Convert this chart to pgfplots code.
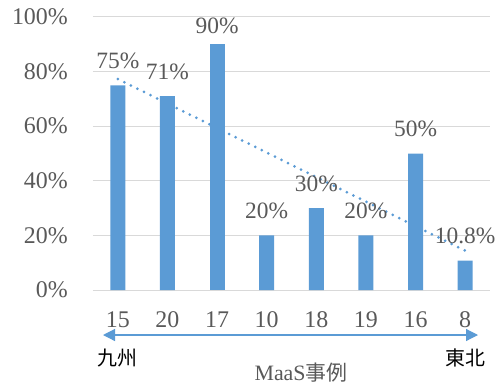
\documentclass[border=0pt]{standalone}
\usepackage{pgfplots}
\pgfplotsset{compat=1.18}
\usetikzlibrary{arrows.meta}
\usepackage{fontspec}
\setmainfont{Liberation Serif}
\newfontfamily\tnr{Liberation Serif}
\newfontfamily\cjk{Noto Sans CJK JP}
\definecolor{barblue}{HTML}{5B9BD5}
\definecolor{txt}{HTML}{595959}
\definecolor{gridc}{HTML}{D9D9D9}
\tikzset{lbl/.style={font=\tnr\fontsize{23.5}{27}\selectfont, text=txt, anchor=base, inner sep=0pt}}
\begin{document}
\begin{tikzpicture}[x=1bp,y=1bp]
\path[use as bounding box] (-93,-95) rectangle (404,290);
\begin{axis}[
  at={(0,0)}, anchor=south west,
  width=397bp, height=273bp, scale only axis,
  xmin=-0.5, xmax=7.5, ymin=0, ymax=100,
  xtick={0,...,7}, xticklabels={15,20,17,10,18,19,16,8},
  ytick={0,20,...,100}, yticklabels={0\%,20\%,40\%,60\%,80\%,100\%},
  axis line style={draw=none}, major tick length=0pt,
  ymajorgrids, grid style={gridc, line width=1pt},
  ticklabel style={font=\tnr\fontsize{24}{28}\selectfont, text=txt, inner sep=0pt},
  yticklabel style={anchor=east, xshift=-25bp},
  xticklabel style={anchor=base, yshift=-37bp},
  clip=false,
  /pgf/number format/assume math mode=true,
]
\addplot[ybar, bar width=15bp, bar shift=0pt, fill=barblue, draw=none,
  point meta=y,
  nodes near coords={\pgfmathprintnumber{\pgfplotspointmeta}\%},
  every node near coord/.append style={lbl, yshift=17bp}]
  table {
x y
0 75
1 71
3 20
4 30
5 20
6 50
7 10.8
};
\addplot[ybar, bar width=15bp, bar shift=0pt, fill=barblue, draw=none,
  point meta=y,
  nodes near coords={\pgfmathprintnumber{\pgfplotspointmeta}\%},
  every node near coord/.append style={lbl, yshift=11bp}]
  table {
x y
2 90
};
\addplot[barblue, line width=3bp, dash pattern=on 0bp off 7.3bp, line cap=round] coordinates {(0,77.28) (7,14.41)};
\end{axis}
\draw[barblue, line width=1.2bp, {Triangle[length=12bp,width=12bp]}-{Triangle[length=12bp,width=12bp]}] (10,-45) -- (385,-45);
\node[text=black, font=\cjk\fontsize{20}{23}\selectfont, inner sep=0pt] at (24,-68) {九州};
\node[text=black, font=\cjk\fontsize{20}{23}\selectfont, inner sep=0pt] at (372,-68) {東北};
\node[text=txt, font=\tnr\fontsize{22}{25}\selectfont, inner sep=0pt, anchor=base] at (208,-90) {MaaS{\cjk\fontsize{21}{24}\selectfont 事例}};
\end{tikzpicture}
\end{document}
